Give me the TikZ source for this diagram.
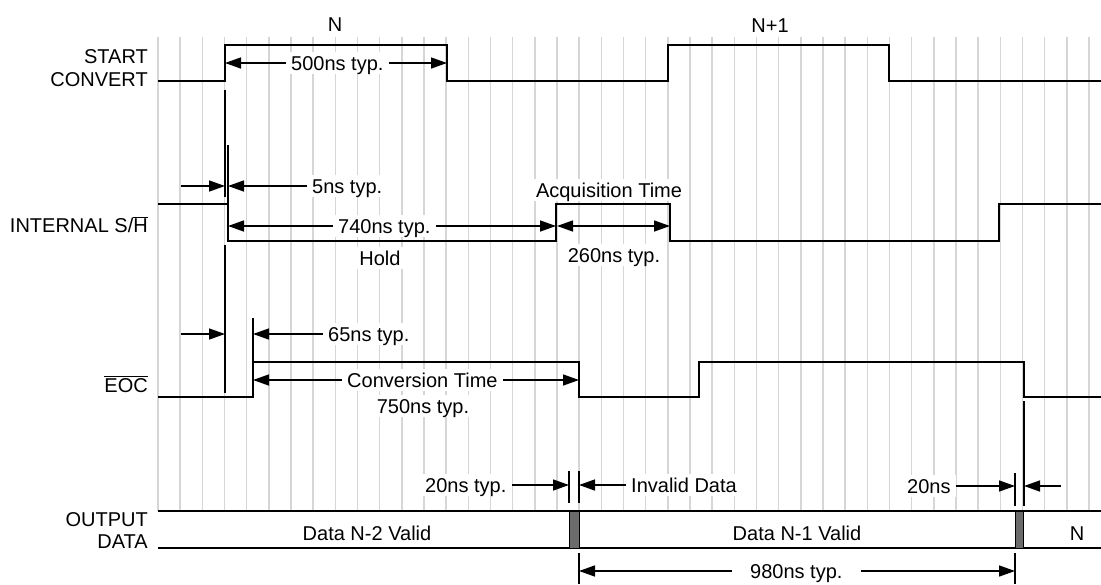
\documentclass[tikz,border=0pt]{standalone}
\usepackage{fontspec}
\setmainfont{Liberation Sans}
\usetikzlibrary{arrows.meta}
\begin{document}
\begin{tikzpicture}[x=1pt,y=-1pt,
  every node/.style={font=\fontsize{20}{24}\selectfont, inner sep=2pt},
  lbl/.style={anchor=base east, inner sep=0pt},
  txt/.style={fill=white, text height=16pt, text depth=2pt, inner xsep=5pt, inner ysep=2pt},
  sig/.style={line width=2pt, line join=miter},
  gridl/.style={line width=1.5pt, draw=black!16},
  dim/.style={line width=1.4pt, -{Triangle[length=16pt,width=11pt]}},
  dimboth/.style={line width=1.4pt, {Triangle[length=16pt,width=11pt]}-{Triangle[length=16pt,width=11pt]}},
  markl/.style={line width=1.6pt},
  hatchbox/.style={fill=black!58, draw=black, line width=1pt}
]
\useasboundingbox (0,0) rectangle (1101,584);

% grid
\foreach \i in {0,...,42} \draw[gridl] ({158+22.167*\i},37) -- ({158+22.167*\i},511);

% edge coordinates
\coordinate (scR1) at (225,81);
\coordinate (scF1) at (447,45);
\coordinate (shF1) at (228,204);
\coordinate (shR1) at (556,241);
\coordinate (shF2) at (670,204);
\coordinate (eocR1) at (253,397);
\coordinate (eocF1) at (579,362);
\coordinate (eocF2) at (1024,362);
\coordinate (hz1) at (569,511);
\coordinate (hz2) at (1015,511);
\coordinate (a5) at (181,186);
\coordinate (a65) at (181,334);
\coordinate (a20) at (1061,486);

% signal labels
\node[lbl] (lstart) at (148,63) {START};
\node[lbl] (lconv) at (148,86) {CONVERT};
\node[lbl] (lsh) at (148,232) {INTERNAL S/$\overline{\hbox{H}}$};
\node[lbl] (leoc) at (148,392) {$\overline{\hbox{EOC}}$};
\node[lbl] (lout) at (148,526) {OUTPUT};
\node[lbl] (ldata) at (148,548) {DATA};

% texts
\node[txt, anchor=base] (tN) at (335,31) {N};
\node[txt, anchor=base] (tN1) at (770,32) {N+1};
\node[txt, anchor=base west] (t500) at (286,70) {500ns typ.};
\node[txt, anchor=base west] (t5) at (307,193) {5ns typ.};
\node[txt, anchor=base] (tacq) at (609,197) {Acquisition Time};
\node[txt, anchor=base west] (t740) at (333,233) {740ns typ.};
\node[txt, anchor=base] (thold) at (380,265) {Hold};
\node[txt, anchor=base] (t260) at (614,262) {260ns typ.};
\node[txt, anchor=base west] (t65) at (323,341) {65ns typ.};
\node[txt, anchor=base west] (tconv) at (342,387) {Conversion Time};
\node[txt, anchor=base] (t750) at (423,413) {750ns typ.};
\node[txt, anchor=base west] (t20a) at (420,492) {20ns typ.};
\node[txt, anchor=base west] (tinv) at (626,492) {Invalid Data};
\node[txt, anchor=base west] (t20b) at (902,493) {20ns};
\node[txt, anchor=base west, inner xsep=18pt] (t980) at (732,578) {980ns typ.};

% waveforms
\draw[sig] (158,81) -- (scR1) -- (225,45) -- (scF1) -- (447,81) -- (668,81) -- (668,45) -- (889,45) -- (889,81) -- (1101,81);
\draw[sig] (158,204) -- (shF1) -- (228,241) -- (shR1) -- (556,204) -- (shF2) -- (670,241) -- (999,241) -- (999,204) -- (1101,204);
\draw[sig] (158,397) -- (eocR1) -- (253,362) -- (eocF1) -- (579,397) -- (699,397) -- (699,362) -- (eocF2) -- (1024,397) -- (1101,397);
\draw[sig] (158,511) -- (1101,511);
\draw[sig] (158,548) -- (1101,548);
\draw[hatchbox] (hz1) rectangle (579,548);
\draw[hatchbox] (hz2) rectangle (1023,548);

% data texts in bus
\node[txt, anchor=base] (dn2) at (367,540) {Data N-2 Valid};
\node[txt, anchor=base] (dn1) at (797,540) {Data N-1 Valid};
\node[txt, anchor=base] (dn) at (1077,540) {N};

% marker lines
\draw[markl] (225,90) -- (225,197);
\draw[markl] (228,145) -- (shF1);
\draw[markl] (225,245) -- (225,393);
\draw[markl] (253,318) -- (253,362);
\draw[markl] (569,471) -- (569,503);
\draw[markl] (579,471) -- (579,503);
\draw[markl] (1015,473) -- (1015,506);
\draw[markl] (1024,401) -- (1024,506);
\draw[markl] (579,553) -- (579,584);
\draw[markl] (1015,553) -- (1015,584);

% dimension arrows
\draw[dim] (t500.west) -- (t500.west -| scR1);
\draw[dim] (t500.east) -- (t500.east -| scF1);
\draw[dim] (a5) -- (a5 -| scR1);
\draw[dim] (t5.west) -- (t5.west -| shF1);
\draw[dim] (t740.west) -- (t740.west -| shF1);
\draw[dim] (t740.east) -- (t740.east -| shR1);
\draw[dimboth] ([xshift=1pt]t740.east -| shR1) -- (t740.east -| shF2);
\draw[dim] (a65) -- (a65 -| scR1);
\draw[dim] (t65.west) -- (t65.west -| eocR1);
\draw[dim] (tconv.west) -- (tconv.west -| eocR1);
\draw[dim] (tconv.east) -- (tconv.east -| eocF1);
\draw[dim] (t20a.east) -- (t20a.east -| hz1);
\draw[dim] (tinv.west) -- (tinv.west -| eocF1);
\draw[dim] (t20b.east) -- (t20b.east -| hz2);
\draw[dim] (a20) -- (a20 -| eocF2);
\draw[dim] (t980.west) -- (t980.west -| eocF1);
\draw[dim] (t980.east) -- (t980.east -| hz2);
\end{tikzpicture}
\end{document}
